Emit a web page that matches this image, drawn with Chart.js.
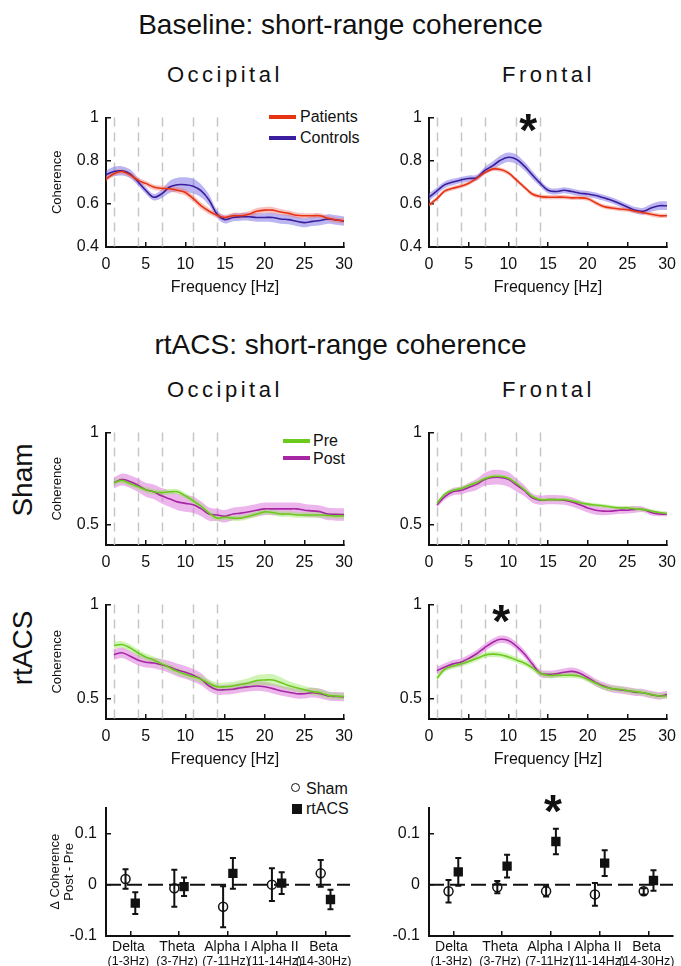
<!DOCTYPE html>
<html>
<head>
<meta charset="utf-8">
<script src="https://cdn.jsdelivr.net/npm/chart.js@4.4.1/dist/chart.umd.min.js"></script>
<style>
	body { margin: 0; width: 681px; height: 966px; position: relative; overflow: hidden; background: #fff;
		font-family: "Liberation Sans", Arial, Helvetica, sans-serif; color: #111; }
	.t { position: absolute; white-space: nowrap; line-height: 1; }
	.big { font-size: 28px; left: 0; width: 681px; text-align: center; }
	.region { font-size: 22px; letter-spacing: 3.5px; }
	.row { font-size: 28px; transform: translate(-50%, -50%) rotate(-90deg); }
	.leg { font-size: 16px; }
	.swatch { position: absolute; height: 4px; }
	canvas { position: absolute; }
</style>
</head>
<body>
<div class="t big" style="top:11px">Baseline: short-range coherence</div>
<div class="t region" style="left:167px;top:64px">Occipital</div>
<div class="t region" style="left:502px;top:64px">Frontal</div>

<div class="swatch" style="left:269px;top:115px;width:27px;background:#e63312"></div>
<div class="t leg" style="left:300px;top:109px">Patients</div>
<div class="swatch" style="left:269px;top:136px;width:27px;background:#3b1e9e"></div>
<div class="t leg" style="left:300px;top:130px">Controls</div>

<div class="t big" style="top:331px">rtACS: short-range coherence</div>
<div class="t region" style="left:167px;top:379px">Occipital</div>
<div class="t region" style="left:502px;top:379px">Frontal</div>

<div class="t row" style="left:23px;top:480px">Sham</div>
<div class="t row" style="left:23px;top:648px">rtACS</div>

<div class="swatch" style="left:283px;top:439px;width:27px;background:#6cc91e"></div>
<div class="t leg" style="left:313px;top:433px">Pre</div>
<div class="swatch" style="left:283px;top:456px;width:27px;background:#a626a4"></div>
<div class="t leg" style="left:313px;top:451px">Post</div>

<div style="position:absolute;left:291px;top:783px;width:7px;height:7px;border:1.5px solid #111;border-radius:50%"></div>
<div class="t leg" style="left:306px;top:781px">Sham</div>
<div style="position:absolute;left:292px;top:804px;width:10px;height:10px;background:#111"></div>
<div class="t leg" style="left:306px;top:801px">rtACS</div>

<script>
const FONT = '"Liberation Sans", Arial, Helvetica, sans-serif';
Chart.defaults.font.family = FONT;
Chart.defaults.color = '#111';

// ---- data ----
const freqTop = [0, 1, 2, 3, 4, 5, 6, 7, 8, 9, 10, 11, 12, 13, 14, 15, 16, 17, 18, 19, 20, 21, 22, 23, 24, 25, 26, 27, 28, 29, 30];
const freqMid = [1, 2, 3, 4, 5, 6, 7, 8, 9, 10, 11, 12, 13, 14, 15, 16, 17, 18, 19, 20, 21, 22, 23, 24, 25, 26, 27, 28, 29, 30];
const freqTicks = [0, 5, 10, 15, 20, 25, 30];
const bandEdges = [1, 4, 7, 11, 14];

// baseline, occipital
const occPatients = [0.715, 0.74, 0.75, 0.735, 0.71, 0.695, 0.678, 0.672, 0.67, 0.663, 0.653, 0.624, 0.591, 0.566, 0.547, 0.537, 0.545, 0.545, 0.552, 0.566, 0.571, 0.571, 0.562, 0.556, 0.547, 0.545, 0.545, 0.545, 0.533, 0.525, 0.522];
const occPatientsSem = [0.012, 0.012, 0.012, 0.012, 0.012, 0.012, 0.012, 0.012, 0.013, 0.014, 0.015, 0.015, 0.015, 0.014, 0.013, 0.013, 0.013, 0.013, 0.014, 0.015, 0.015, 0.015, 0.014, 0.013, 0.013, 0.012, 0.012, 0.012, 0.012, 0.012, 0.012];
const occControls = [0.735, 0.75, 0.753, 0.74, 0.704, 0.663, 0.631, 0.646, 0.678, 0.689, 0.689, 0.682, 0.66, 0.617, 0.552, 0.527, 0.537, 0.54, 0.54, 0.537, 0.537, 0.537, 0.53, 0.527, 0.519, 0.513, 0.519, 0.523, 0.53, 0.525, 0.52];
const occControlsSem = [0.02, 0.022, 0.022, 0.02, 0.018, 0.016, 0.015, 0.02, 0.028, 0.032, 0.034, 0.034, 0.03, 0.025, 0.018, 0.018, 0.018, 0.018, 0.018, 0.02, 0.02, 0.022, 0.022, 0.022, 0.022, 0.022, 0.022, 0.022, 0.022, 0.022, 0.022];

// baseline, frontal
const frontPatients = [0.595, 0.624, 0.66, 0.672, 0.682, 0.696, 0.718, 0.744, 0.761, 0.759, 0.744, 0.711, 0.678, 0.646, 0.634, 0.631, 0.631, 0.631, 0.628, 0.628, 0.624, 0.605, 0.588, 0.581, 0.576, 0.573, 0.566, 0.559, 0.552, 0.545, 0.545];
const frontPatientsSem = [0.01, 0.01, 0.01, 0.01, 0.01, 0.01, 0.01, 0.01, 0.01, 0.01, 0.01, 0.01, 0.01, 0.01, 0.01, 0.01, 0.01, 0.01, 0.01, 0.01, 0.01, 0.01, 0.01, 0.01, 0.01, 0.01, 0.01, 0.01, 0.01, 0.01, 0.01];
const frontControls = [0.631, 0.66, 0.689, 0.701, 0.711, 0.718, 0.721, 0.754, 0.776, 0.802, 0.816, 0.807, 0.776, 0.735, 0.696, 0.663, 0.657, 0.663, 0.657, 0.649, 0.646, 0.639, 0.628, 0.617, 0.602, 0.585, 0.57, 0.566, 0.581, 0.591, 0.591];
const frontControlsSem = [0.018, 0.016, 0.015, 0.015, 0.014, 0.014, 0.014, 0.016, 0.02, 0.022, 0.022, 0.022, 0.02, 0.018, 0.015, 0.014, 0.014, 0.014, 0.014, 0.014, 0.014, 0.014, 0.014, 0.014, 0.014, 0.014, 0.015, 0.016, 0.018, 0.02, 0.02];

// sham, occipital
const shamOccPre = [0.728, 0.74, 0.724, 0.707, 0.69, 0.679, 0.674, 0.679, 0.679, 0.657, 0.629, 0.599, 0.563, 0.536, 0.541, 0.536, 0.536, 0.546, 0.558, 0.57, 0.566, 0.558, 0.558, 0.553, 0.553, 0.553, 0.553, 0.55, 0.548, 0.547];
const shamOccPreSem = [0.015, 0.015, 0.015, 0.015, 0.015, 0.015, 0.015, 0.015, 0.015, 0.015, 0.015, 0.015, 0.015, 0.015, 0.015, 0.015, 0.015, 0.015, 0.015, 0.015, 0.015, 0.015, 0.015, 0.015, 0.015, 0.015, 0.015, 0.015, 0.015, 0.015];
const shamOccPost = [0.728, 0.745, 0.735, 0.715, 0.69, 0.679, 0.657, 0.641, 0.624, 0.616, 0.608, 0.586, 0.558, 0.553, 0.546, 0.558, 0.563, 0.57, 0.579, 0.586, 0.586, 0.586, 0.586, 0.586, 0.579, 0.575, 0.57, 0.558, 0.556, 0.555];
const shamOccPostSem = [0.03, 0.032, 0.034, 0.036, 0.038, 0.04, 0.042, 0.044, 0.045, 0.045, 0.044, 0.04, 0.036, 0.034, 0.034, 0.034, 0.034, 0.034, 0.034, 0.034, 0.034, 0.034, 0.034, 0.034, 0.034, 0.034, 0.034, 0.034, 0.034, 0.034];

// sham, frontal
const shamFrontPre = [0.616, 0.666, 0.686, 0.696, 0.712, 0.729, 0.749, 0.762, 0.762, 0.752, 0.724, 0.691, 0.653, 0.636, 0.636, 0.636, 0.636, 0.629, 0.619, 0.612, 0.607, 0.602, 0.596, 0.591, 0.591, 0.586, 0.582, 0.574, 0.566, 0.561];
const shamFrontPreSem = [0.01, 0.01, 0.01, 0.01, 0.01, 0.01, 0.01, 0.01, 0.01, 0.01, 0.01, 0.01, 0.01, 0.01, 0.01, 0.01, 0.01, 0.01, 0.01, 0.01, 0.01, 0.01, 0.01, 0.01, 0.01, 0.01, 0.01, 0.01, 0.01, 0.01];
const shamFrontPost = [0.608, 0.653, 0.679, 0.686, 0.702, 0.719, 0.746, 0.757, 0.757, 0.746, 0.716, 0.686, 0.646, 0.633, 0.636, 0.636, 0.633, 0.624, 0.608, 0.591, 0.579, 0.574, 0.574, 0.579, 0.579, 0.583, 0.583, 0.566, 0.558, 0.558];
const shamFrontPostSem = [0.015, 0.018, 0.02, 0.022, 0.025, 0.03, 0.035, 0.04, 0.04, 0.04, 0.035, 0.03, 0.025, 0.025, 0.025, 0.025, 0.025, 0.025, 0.025, 0.025, 0.025, 0.022, 0.02, 0.02, 0.018, 0.018, 0.015, 0.015, 0.012, 0.012];

// rtACS, occipital
const rtOccPre = [0.782, 0.787, 0.77, 0.743, 0.721, 0.705, 0.684, 0.664, 0.644, 0.628, 0.615, 0.602, 0.579, 0.562, 0.562, 0.566, 0.574, 0.582, 0.595, 0.598, 0.598, 0.585, 0.569, 0.557, 0.546, 0.536, 0.53, 0.516, 0.512, 0.51];
const rtOccPreSem = [0.018, 0.018, 0.018, 0.018, 0.018, 0.018, 0.018, 0.018, 0.018, 0.018, 0.018, 0.02, 0.022, 0.022, 0.022, 0.022, 0.024, 0.026, 0.028, 0.03, 0.03, 0.028, 0.024, 0.022, 0.02, 0.02, 0.02, 0.018, 0.018, 0.018];
const rtOccPost = [0.733, 0.743, 0.726, 0.705, 0.693, 0.689, 0.68, 0.667, 0.651, 0.639, 0.623, 0.602, 0.566, 0.546, 0.546, 0.549, 0.557, 0.562, 0.566, 0.562, 0.552, 0.541, 0.533, 0.525, 0.525, 0.53, 0.525, 0.513, 0.51, 0.508];
const rtOccPostSem = [0.028, 0.028, 0.028, 0.028, 0.028, 0.028, 0.03, 0.032, 0.034, 0.034, 0.034, 0.032, 0.028, 0.026, 0.026, 0.026, 0.026, 0.026, 0.026, 0.026, 0.026, 0.026, 0.026, 0.026, 0.026, 0.026, 0.026, 0.024, 0.024, 0.024];

// rtACS, frontal
const rtFrontPre = [0.607, 0.656, 0.672, 0.684, 0.697, 0.713, 0.73, 0.736, 0.733, 0.721, 0.705, 0.689, 0.664, 0.634, 0.623, 0.623, 0.623, 0.623, 0.618, 0.602, 0.582, 0.562, 0.552, 0.549, 0.541, 0.536, 0.53, 0.52, 0.513, 0.513];
const rtFrontPreSem = [0.015, 0.015, 0.015, 0.015, 0.015, 0.015, 0.015, 0.015, 0.015, 0.015, 0.015, 0.015, 0.015, 0.015, 0.015, 0.015, 0.015, 0.015, 0.015, 0.015, 0.015, 0.015, 0.015, 0.015, 0.015, 0.015, 0.015, 0.015, 0.015, 0.015];
const rtFrontPost = [0.648, 0.667, 0.684, 0.693, 0.713, 0.738, 0.77, 0.798, 0.815, 0.808, 0.779, 0.738, 0.684, 0.634, 0.628, 0.631, 0.639, 0.644, 0.634, 0.611, 0.585, 0.566, 0.552, 0.546, 0.541, 0.533, 0.53, 0.52, 0.513, 0.52];
const rtFrontPostSem = [0.02, 0.02, 0.02, 0.02, 0.02, 0.02, 0.02, 0.02, 0.02, 0.02, 0.02, 0.02, 0.02, 0.02, 0.02, 0.02, 0.02, 0.02, 0.02, 0.02, 0.02, 0.02, 0.02, 0.02, 0.02, 0.02, 0.02, 0.02, 0.02, 0.02];

// post - pre change per band
const bandNames = ['Delta', 'Theta', 'Alpha I', 'Alpha II', 'Beta'];
const bandRanges = ['(1-3Hz)', '(3-7Hz)', '(7-11Hz)', '(11-14Hz)', '(14-30Hz)'];
const occShamDelta = [0.011, -0.007, -0.043, 0.0, 0.022];
const occShamErr = [0.019, 0.036, 0.04, 0.032, 0.026];
const occRtacsDelta = [-0.036, -0.004, 0.022, 0.003, -0.029];
const occRtacsErr = [0.021, 0.018, 0.03, 0.021, 0.019];
const frontShamDelta = [-0.013, -0.005, -0.013, -0.019, -0.013];
const frontShamErr = [0.022, 0.012, 0.01, 0.022, 0.006];
const frontRtacsDelta = [0.025, 0.036, 0.084, 0.042, 0.008];
const frontRtacsErr = [0.027, 0.022, 0.025, 0.025, 0.02];

// ---- colours ----
const RED = '#e63312', RED_BAND = 'rgba(245,120,110,0.45)';
const BLUE = '#3b1e9e', BLUE_BAND = 'rgba(120,110,230,0.5)';
const GREEN = '#6cc91e', GREEN_BAND = 'rgba(150,230,90,0.45)';
const PURPLE = '#a626a4', PURPLE_BAND = 'rgba(220,120,220,0.55)';

// ---- plugins ----
const bandLines = {
	id: 'bandLines',
	beforeDatasetsDraw(chart, args, opts) {
		if (!opts.show) return;
		const { ctx, chartArea, scales: { x } } = chart;
		ctx.save();
		ctx.strokeStyle = '#c6c6c6';
		ctx.lineWidth = 1.5;
		ctx.setLineDash([9, 6]);
		bandEdges.forEach((f) => {
			const px = Math.round(x.getPixelForValue(f)) + 0.5;
			ctx.beginPath();
			ctx.moveTo(px, chartArea.top);
			ctx.lineTo(px, chartArea.bottom);
			ctx.stroke();
		});
		ctx.restore();
	},
};

const starMark = {
	id: 'starMark',
	afterDatasetsDraw(chart, args, opts) {
		if (opts.x == null) return;
		const { ctx, scales: { x, y } } = chart;
		ctx.save();
		ctx.font = 'bold 46px ' + FONT;
		ctx.fillStyle = '#111';
		ctx.textAlign = 'center';
		ctx.textBaseline = 'alphabetic';
		const m = ctx.measureText('*');
		const px = x.getPixelForValue(opts.x), py = y.getPixelForValue(opts.y);
		ctx.fillText('*', px, py + (m.actualBoundingBoxAscent - m.actualBoundingBoxDescent) / 2);
		ctx.restore();
	},
};

const errorBars = {
	id: 'errorBars',
	beforeDatasetsDraw(chart) {
		const { ctx, chartArea, scales: { y } } = chart;
		ctx.save();
		// dashed zero line
		ctx.strokeStyle = '#111';
		ctx.lineWidth = 2;
		ctx.setLineDash([15, 6]);
		const y0 = y.getPixelForValue(0);
		ctx.beginPath();
		ctx.moveTo(chartArea.left, y0);
		ctx.lineTo(chartArea.right, y0);
		ctx.stroke();
		ctx.setLineDash([]);
		chart.data.datasets.forEach((ds, i) => {
			chart.getDatasetMeta(i).data.forEach((pt, j) => {
				const v = ds.data[j].y, e = ds.errors[j];
				const top = y.getPixelForValue(v + e), bot = y.getPixelForValue(v - e);
				ctx.beginPath();
				ctx.moveTo(pt.x, top); ctx.lineTo(pt.x, bot);
				ctx.moveTo(pt.x - 3, top); ctx.lineTo(pt.x + 3, top);
				ctx.moveTo(pt.x - 3, bot); ctx.lineTo(pt.x + 3, bot);
				ctx.stroke();
			});
		});
		ctx.restore();
	},
};

// band name + range under each category, the range in a smaller size
const bandLabels = {
	id: 'bandLabels',
	afterDraw(chart) {
		const { ctx, chartArea, scales: { x } } = chart;
		ctx.save();
		ctx.fillStyle = '#111';
		ctx.textAlign = 'center';
		ctx.textBaseline = 'middle';
		bandNames.forEach((name, i) => {
			const px = x.getPixelForValue(i + 1) - 2;
			ctx.font = '14px ' + FONT;
			ctx.fillText(name, px, chartArea.bottom + 11);
			ctx.font = '12.5px ' + FONT;
			ctx.fillText(bandRanges[i], px, chartArea.bottom + 26);
		});
		ctx.restore();
	},
};

// ---- layout helpers ----
const PT = 12;
const fmt = (v) => String(Math.round(v * 100) / 100);

function makeCanvas(box, yw, xh, pr) {
	const c = document.createElement('canvas');
	const w = yw + (box.x1 - box.x0) + pr;
	const h = PT + (box.y1 - box.y0) + xh;
	c.width = w;
	c.height = h;
	c.style.left = box.x0 - yw + 'px';
	c.style.top = box.y0 - PT + 'px';
	c.style.width = w + 'px';
	c.style.height = h + 'px';
	document.body.appendChild(c);
	return c;
}

const axisLook = () => ({
	grid: { display: true, drawOnChartArea: false, drawTicks: true, tickLength: -5, color: '#111', lineWidth: 1.5 },
	border: { display: true, color: '#111', width: 2 },
});

function spectrumChart(box, o) {
	const xh = o.xTitle ? 50 : 30;
	const canvas = makeCanvas(box, 56, xh, 16);
	const datasets = [];
	o.series.forEach((s) => {
		datasets.push({
			data: o.freq.map((f, i) => ({ x: f, y: s.values[i] })),
			borderColor: s.line, borderWidth: 1.6, pointRadius: 0, tension: 0.35, fill: false, order: 0,
		});
	});
	o.series.forEach((s) => {
		datasets.push({
			data: o.freq.map((f, i) => ({ x: f, y: s.values[i] + s.sem[i] })),
			borderColor: 'transparent', borderWidth: 0, pointRadius: 0, tension: 0.35, fill: '+1', backgroundColor: s.band, order: 1,
		});
		datasets.push({
			data: o.freq.map((f, i) => ({ x: f, y: s.values[i] - s.sem[i] })),
			borderColor: 'transparent', borderWidth: 0, pointRadius: 0, tension: 0.35, fill: false, order: 1,
		});
	});

	new Chart(canvas, {
		type: 'line',
		data: { datasets },
		options: {
			responsive: false, animation: false, devicePixelRatio: 1, events: [],
			layout: { padding: { left: 0, top: PT, right: 16, bottom: 0 } },
			plugins: { legend: { display: false }, tooltip: { enabled: false }, bandLines: { show: true }, starMark: o.star || {} },
			scales: {
				x: {
					type: 'linear', min: 0, max: 30,
					afterBuildTicks: (s) => { s.ticks = freqTicks.map((v) => ({ value: v })); },
					afterFit: (s) => { s.height = xh; },
					...axisLook(),
					ticks: { padding: 13, maxRotation: 0, autoSkip: false, font: { size: 16 }, callback: (v) => fmt(v) },
					title: { display: !!o.xTitle, text: 'Frequency [Hz]', padding: 0, font: { size: 16 } },
				},
				y: {
					min: o.yMin, max: o.yMax,
					afterBuildTicks: (s) => { s.ticks = o.yTicks.map((v) => ({ value: v })); },
					afterFit: (s) => { s.width = 56; },
					...axisLook(),
					ticks: { padding: 12, font: { size: 16 }, callback: (v) => fmt(v) },
					title: { display: !!o.yTitle, text: 'Coherence', padding: { top: 0, bottom: 0 }, font: { size: 13 } },
				},
			},
		},
		plugins: [bandLines, starMark],
	});
}

function changeChart(box, o) {
	const canvas = makeCanvas(box, 62, 30, 18);
	const datasets = [
		{
			data: o.sham.map((v, i) => ({ x: i + 1 - 0.1, y: v })), errors: o.shamErr,
			pointStyle: 'circle', pointRadius: 4.5, pointBorderWidth: 1.5, pointBorderColor: '#111', pointBackgroundColor: 'transparent',
		},
		{
			data: o.rtacs.map((v, i) => ({ x: i + 1 + 0.1, y: v })), errors: o.rtacsErr,
			pointStyle: 'rect', pointRadius: 6.6, pointBorderWidth: 0, pointBackgroundColor: '#111',
		},
	];

	new Chart(canvas, {
		type: 'scatter',
		data: { datasets },
		options: {
			responsive: false, animation: false, devicePixelRatio: 1, events: [],
			layout: { padding: { left: 0, top: PT, right: 18, bottom: 0 } },
			plugins: { legend: { display: false }, tooltip: { enabled: false }, starMark: o.star || {} },
			scales: {
				x: {
					type: 'linear', min: 0.5, max: 5.5,
					afterBuildTicks: (s) => { s.ticks = bandNames.map((n, i) => ({ value: i + 1 })); },
					afterFit: (s) => { s.height = 30; },
					...axisLook(),
					ticks: { display: false },
				},
				y: {
					min: -0.1, max: 0.15,
					afterBuildTicks: (s) => { s.ticks = [-0.1, 0, 0.1].map((v) => ({ value: v })); },
					afterFit: (s) => { s.width = 62; },
					...axisLook(),
					ticks: { padding: 14, font: { size: 16 }, callback: (v) => fmt(v) },
					title: {
						display: !!o.yTitle, text: ['\u0394 Coherence', 'Post - Pre'],
						padding: { top: 4, bottom: 0 }, font: { size: 13, lineHeight: 1.1 },
					},
				},
			},
		},
		plugins: [errorBars, starMark, bandLabels],
	});
}

// ---- panels ----
const baseTicks = [0.4, 0.6, 0.8, 1];
const midTicks = [0.5, 1];

spectrumChart({ x0: 106, x1: 350, y0: 108, y1: 247 }, {
	freq: freqTop, yMin: 0.4, yMax: 1, yTicks: baseTicks, xTitle: true, yTitle: true,
	series: [
		{ values: occPatients, sem: occPatientsSem, line: RED, band: RED_BAND },
		{ values: occControls, sem: occControlsSem, line: BLUE, band: BLUE_BAND },
	],
});
spectrumChart({ x0: 429, x1: 673, y0: 108, y1: 247 }, {
	freq: freqTop, yMin: 0.4, yMax: 1, yTicks: baseTicks, xTitle: true,
	star: { x: 12.5, y: 0.977 },
	series: [
		{ values: frontPatients, sem: frontPatientsSem, line: RED, band: RED_BAND },
		{ values: frontControls, sem: frontControlsSem, line: BLUE, band: BLUE_BAND },
	],
});
spectrumChart({ x0: 106, x1: 350, y0: 423, y1: 545 }, {
	freq: freqMid, yMin: 0.39, yMax: 1, yTicks: midTicks, yTitle: true,
	series: [
		{ values: shamOccPre, sem: shamOccPreSem, line: GREEN, band: GREEN_BAND },
		{ values: shamOccPost, sem: shamOccPostSem, line: PURPLE, band: PURPLE_BAND },
	],
});
spectrumChart({ x0: 429, x1: 673, y0: 423, y1: 545 }, {
	freq: freqMid, yMin: 0.39, yMax: 1, yTicks: midTicks,
	series: [
		{ values: shamFrontPre, sem: shamFrontPreSem, line: GREEN, band: GREEN_BAND },
		{ values: shamFrontPost, sem: shamFrontPostSem, line: PURPLE, band: PURPLE_BAND },
	],
});
spectrumChart({ x0: 106, x1: 350, y0: 595, y1: 719 }, {
	freq: freqMid, yMin: 0.39, yMax: 1, yTicks: midTicks, xTitle: true, yTitle: true,
	series: [
		{ values: rtOccPre, sem: rtOccPreSem, line: GREEN, band: GREEN_BAND },
		{ values: rtOccPost, sem: rtOccPostSem, line: PURPLE, band: PURPLE_BAND },
	],
});
spectrumChart({ x0: 429, x1: 673, y0: 595, y1: 719 }, {
	freq: freqMid, yMin: 0.39, yMax: 1, yTicks: midTicks, xTitle: true,
	star: { x: 9.1, y: 0.95 },
	series: [
		{ values: rtFrontPre, sem: rtFrontPreSem, line: GREEN, band: GREEN_BAND },
		{ values: rtFrontPost, sem: rtFrontPostSem, line: PURPLE, band: PURPLE_BAND },
	],
});
changeChart({ x0: 106, x1: 350, y0: 796, y1: 936 }, {
	sham: occShamDelta, shamErr: occShamErr, rtacs: occRtacsDelta, rtacsErr: occRtacsErr, yTitle: true,
});
changeChart({ x0: 429, x1: 673, y0: 796, y1: 936 }, {
	sham: frontShamDelta, shamErr: frontShamErr, rtacs: frontRtacsDelta, rtacsErr: frontRtacsErr,
	star: { x: 3.04, y: 0.157 },
});
</script>
</body>
</html>
